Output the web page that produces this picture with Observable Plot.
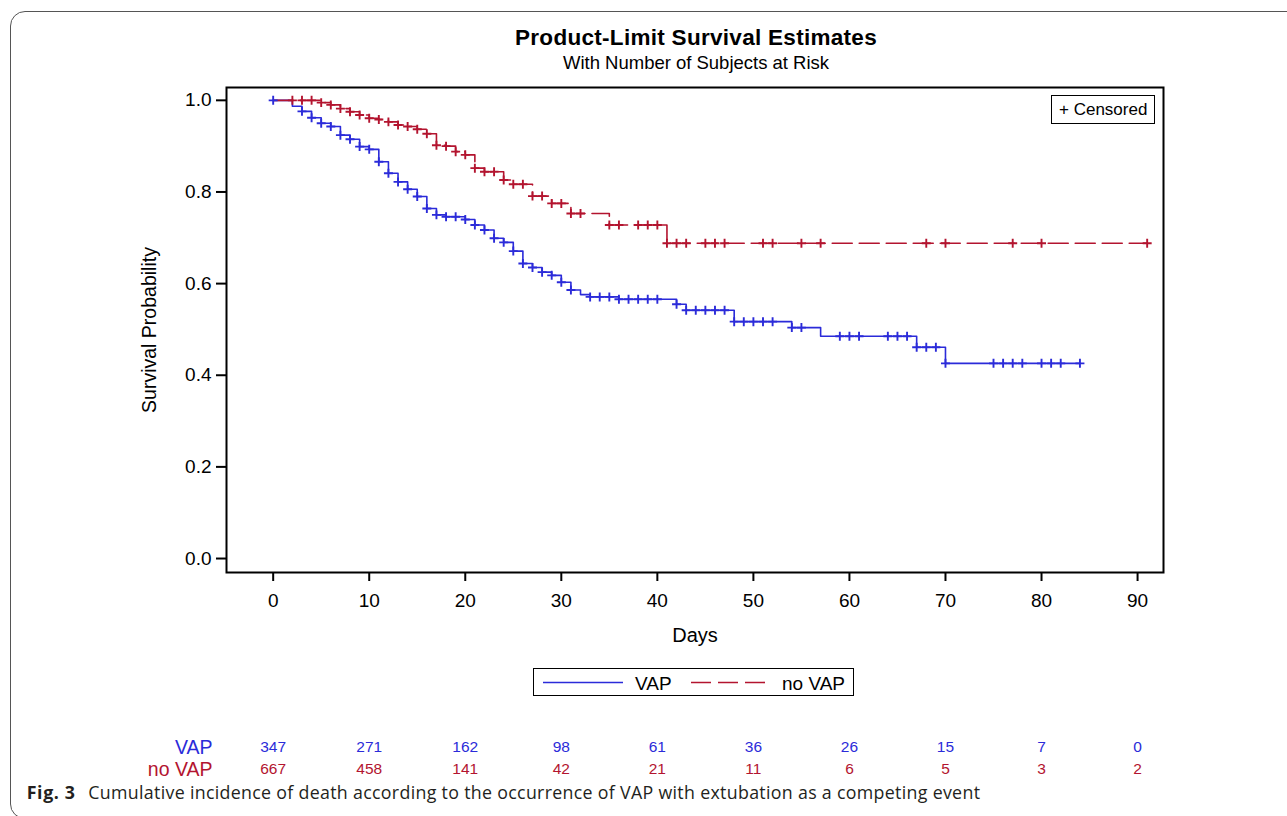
<!DOCTYPE html>
<html><head><meta charset="utf-8">
<script src="https://cdn.jsdelivr.net/npm/d3@7"></script>
<script src="https://cdn.jsdelivr.net/npm/@observablehq/plot@0.6"></script>
<style>
html,body{margin:0;padding:0;background:#fff;}
body{width:1287px;height:816px;position:relative;overflow:hidden;font-family:"Liberation Sans",Arial,sans-serif;}
.t{position:absolute;white-space:nowrap;line-height:1;}
#frameBorder{position:absolute;left:10px;top:11px;width:1320px;height:808px;border:1px solid #555;border-radius:15px;box-sizing:border-box;}
#chart{position:absolute;left:0;top:80px;}
.box{position:absolute;border:1.5px solid #000;box-sizing:border-box;background:#fff;}
</style></head><body>
<div id="frameBorder"></div>
<div id="chart"></div>
<script>
// ---- data ----
const dayTicks = [0, 10, 20, 30, 40, 50, 60, 70, 80, 90];
const survTicks = [0, 0.2, 0.4, 0.6, 0.8, 1.0];

const vapStepDays = [0, 2, 3, 4, 5, 6, 7, 8, 9, 10, 11, 12, 13, 14, 15, 16, 17, 18, 20, 21, 22, 23, 24, 25, 26, 27, 28, 29, 30, 31, 32, 33, 36, 42, 43, 48, 54, 57, 67, 70];
const vapStepSurv = [1.0, 0.987, 0.976, 0.962, 0.950, 0.943, 0.924, 0.915, 0.899, 0.893, 0.866, 0.841, 0.822, 0.806, 0.790, 0.764, 0.750, 0.746, 0.740, 0.728, 0.717, 0.699, 0.690, 0.671, 0.644, 0.635, 0.625, 0.618, 0.603, 0.586, 0.576, 0.571, 0.566, 0.555, 0.542, 0.517, 0.504, 0.485, 0.461, 0.426];
const vapEndDay = 84;
const vapCensorDays = [0, 3, 4, 5, 6, 7, 8, 9, 10, 11, 12, 13, 14, 15, 16, 17, 18, 19, 20, 21, 22, 23, 24, 25, 26, 27, 28, 29, 30, 31, 33, 34, 35, 36, 37, 38, 39, 40, 42, 43, 44, 45, 46, 47, 48, 49, 50, 51, 52, 54, 55, 59, 60, 61, 64, 65, 66, 67, 68, 69, 70, 75, 76, 77, 78, 80, 81, 82, 84];

const noVapStepDays = [0, 5, 6, 7, 8, 9, 10, 11, 12, 13, 14, 15, 16, 17, 18, 19, 20, 21, 22, 24, 25, 27, 29, 31, 35, 41];
const noVapStepSurv = [1.0, 0.995, 0.990, 0.982, 0.975, 0.968, 0.961, 0.958, 0.953, 0.946, 0.943, 0.937, 0.927, 0.902, 0.900, 0.888, 0.881, 0.852, 0.844, 0.826, 0.817, 0.791, 0.775, 0.753, 0.728, 0.688];
const noVapEndDay = 91;
const noVapCensorDays = [2, 3, 4, 5, 6, 7, 8, 9, 10, 11, 12, 13, 14, 15, 16, 17, 18, 19, 20, 21, 22, 23, 24, 25, 26, 27, 28, 29, 30, 31, 32, 35, 36, 38, 39, 40, 41, 42, 43, 45, 46, 47, 51, 52, 55, 57, 68, 70, 77, 80, 91];

const riskDays = [0, 10, 20, 30, 40, 50, 60, 70, 80, 90];
const vapAtRisk = [347, 271, 162, 98, 61, 36, 26, 15, 7, 0];
const noVapAtRisk = [667, 458, 141, 42, 21, 11, 6, 5, 3, 2];

const groupNames = ["VAP", "no VAP"];
const blue = "#2b2bd9";
const red = "#b3142f";

// ---- build tables ----
function stepLine(days, surv, endDay) {
  const pts = days.map((d, i) => ({day: d, surv: surv[i]}));
  pts.push({day: endDay, surv: surv[surv.length - 1]});
  return pts;
}
function censorPts(cdays, days, surv) {
  return cdays.map(c => {
    let k = 0;
    for (let i = 0; i < days.length; i++) if (days[i] <= c) k = i;
    return {day: c, surv: surv[k]};
  });
}
const vapLine = stepLine(vapStepDays, vapStepSurv, vapEndDay);
const noVapLine = stepLine(noVapStepDays, noVapStepSurv, noVapEndDay);
const vapCens = censorPts(vapCensorDays, vapStepDays, vapStepSurv);
const noVapCens = censorPts(noVapCensorDays, noVapStepDays, noVapStepSurv);
const vapRiskRows = riskDays.map((d, i) => ({day: d, n: vapAtRisk[i]}));
const noVapRiskRows = riskDays.map((d, i) => ({day: d, n: noVapAtRisk[i]}));

const chart = Plot.plot({
  width: 1287, height: 700,
  marginLeft: 226, marginRight: 124, marginTop: 7, marginBottom: 208,
  x: {domain: [-4.86, 92.7]},
  y: {domain: [-0.0305, 1.028]},
  style: {fontFamily: "'Liberation Sans', Arial, sans-serif", fontSize: "19px", color: "#000", background: "transparent", overflow: "visible"},
  marks: [
    Plot.axisX({ticks: dayTicks, tickSize: 9, tickPadding: 12, strokeWidth: 2, label: null}),
    Plot.axisY({ticks: survTicks, tickFormat: d => d.toFixed(1), tickSize: 10, tickPadding: 5, strokeWidth: 2, label: null}),
    Plot.line(vapLine, {x: "day", y: "surv", curve: "step-after", stroke: blue, strokeWidth: 1.6}),
    Plot.line(noVapLine, {x: "day", y: "surv", curve: "step-after", stroke: red, strokeWidth: 1.6, strokeDasharray: "20,7"}),
    Plot.dot(vapCens, {x: "day", y: "surv", symbol: "plus", r: 3.0, stroke: blue, strokeWidth: 1.9}),
    Plot.dot(noVapCens, {x: "day", y: "surv", symbol: "plus", r: 3.0, stroke: red, strokeWidth: 1.9}),
    Plot.frame({stroke: "#000", strokeWidth: 2}),
    Plot.text(["Days"], {text: d => d, frameAnchor: "bottom", dy: 69.5, fontSize: 20}),
    Plot.text(["Survival Probability"], {text: d => d, frameAnchor: "left", textAnchor: "middle", dx: -77, rotate: -90, fontSize: 19.5}),
    Plot.text([groupNames[0]], {text: d => d, frameAnchor: "bottom-left", dx: -14, dy: 181, textAnchor: "end", fill: blue, fontSize: 19.5}),
    Plot.text([groupNames[1]], {text: d => d, frameAnchor: "bottom-left", dx: -14, dy: 203, textAnchor: "end", fill: red, fontSize: 19.5}),
    Plot.text(vapRiskRows, {x: "day", text: d => String(d.n), frameAnchor: "bottom", dy: 179.5, fill: blue, fontSize: 15.5}),
    Plot.text(noVapRiskRows, {x: "day", text: d => String(d.n), frameAnchor: "bottom", dy: 201.8, fill: red, fontSize: 15.5})
  ]
});
document.getElementById("chart").appendChild(chart);

// ---- text helpers ----
function addText(text, x, baseline, size, opt = {}) {
  const el = document.createElement("div");
  el.className = "t";
  el.textContent = text;
  const k = opt.ascK ?? 0.8465;
  el.style.fontSize = size + "px";
  el.style.left = x + "px";
  el.style.top = (baseline - k * size) + "px";
  if (opt.family) el.style.fontFamily = opt.family;
  if (opt.weight) el.style.fontWeight = opt.weight;
  el.style.color = opt.color || "#000";
  if (opt.anchor === "middle") el.style.transform = "translateX(-50%)";
  else if (opt.anchor === "end") el.style.transform = "translateX(-100%)";
  document.body.appendChild(el);
  return el;
}
function fit(el, target) {
  el.style.letterSpacing = "0px";
  const w = el.getBoundingClientRect().width;
  const n = el.textContent.length;
  el.style.letterSpacing = ((target - w) / n) + "px";
}

const title = addText("Product-Limit Survival Estimates", 696, 45.7, 22.5, {weight: "bold", anchor: "middle"});
const subtitle = addText("With Number of Subjects at Risk", 696, 70, 18.5, {anchor: "middle"});

// censored inset box
const cbox = document.createElement("div");
cbox.className = "box";
Object.assign(cbox.style, {left: "1051px", top: "95px", width: "104px", height: "29px"});
document.body.appendChild(cbox);
addText("+ Censored", 1059, 115, 17);

// legend box
const lbox = document.createElement("div");
lbox.className = "box";
Object.assign(lbox.style, {left: "533px", top: "668px", width: "321px", height: "28px"});
document.body.appendChild(lbox);
const ns = "http://www.w3.org/2000/svg";
const lsvg = document.createElementNS(ns, "svg");
lsvg.setAttribute("width", 1287); lsvg.setAttribute("height", 816);
lsvg.style.position = "absolute"; lsvg.style.left = "0"; lsvg.style.top = "0"; lsvg.style.pointerEvents = "none";
function lline(x1, x2, y, color, dash) {
  const l = document.createElementNS(ns, "line");
  l.setAttribute("x1", x1); l.setAttribute("x2", x2); l.setAttribute("y1", y); l.setAttribute("y2", y);
  l.setAttribute("stroke", color); l.setAttribute("stroke-width", 1.6);
  if (dash) l.setAttribute("stroke-dasharray", dash);
  lsvg.appendChild(l);
}
lline(543, 623, 682.5, blue);
lline(691, 765, 682.5, red, "20,7");
document.body.appendChild(lsvg);
addText(groupNames[0], 635, 690, 19);
addText(groupNames[1], 782, 690, 19);

// caption
const capFam = "'Open Sans', 'Noto Sans', sans-serif";
const figLab = addText("Fig. 3", 26.7, 800, 17.8, {family: capFam, weight: "bold", color: "#231f20", ascK: 0.888});
const cap = addText("Cumulative incidence of death according to the occurrence of VAP with extubation as a competing event", 88.3, 800, 17.8, {family: capFam, color: "#231f20", ascK: 0.888});

function doFit() {
  fit(title, 362);
  fit(subtitle, 266);
  fit(cap, 892);
  fit(figLab, 49);
}
doFit();
if (document.fonts && document.fonts.ready) document.fonts.ready.then(doFit);
</script>
</body></html>
